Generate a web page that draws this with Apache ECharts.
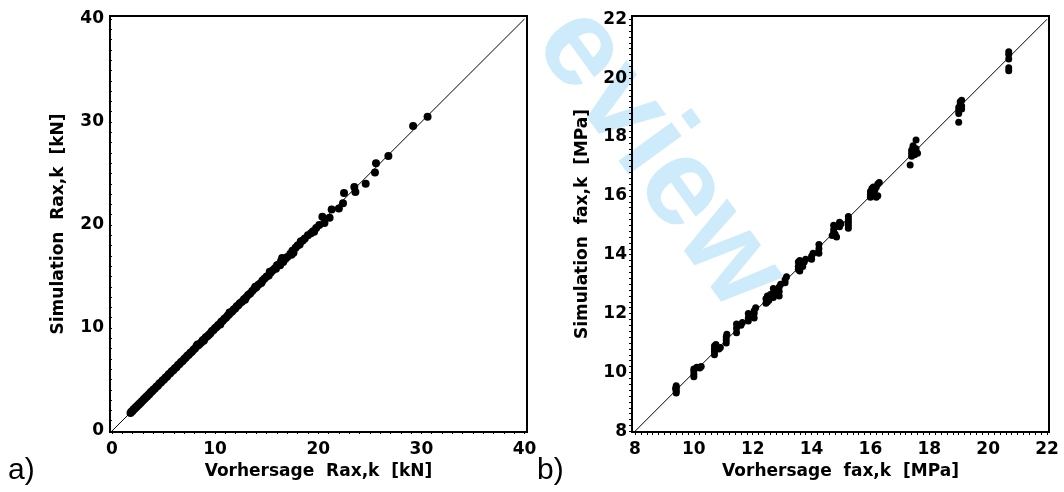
<!DOCTYPE html>
<html><head><meta charset="utf-8">
<script src="https://cdn.jsdelivr.net/npm/echarts@6/dist/echarts.min.js"></script>
<style>html,body{margin:0;padding:0;background:#fff}#c{width:1064px;height:492px}</style>
</head><body><div id="c"></div>
<script>
// a) Rax,k [kN]: [Vorhersage, Simulation]
const raxPoints = [
[1.8,1.75],[1.9,1.9],[2.0,1.95],[2.1,2.1],[2.2,2.15],[2.3,2.3],[2.4,2.35],[2.5,2.5],[2.6,2.55],[2.7,2.7],
[2.8,2.75],[2.9,2.9],[3.0,2.95],[3.1,3.1],[3.2,3.15],[3.3,3.3],[3.4,3.35],[3.5,3.5],[3.6,3.55],[3.7,3.7],
[3.8,3.8],[3.9,3.85],[4.0,4.0],[4.15,4.1],[4.3,4.3],[4.45,4.4],[4.6,4.6],[4.75,4.7],[4.9,4.9],[5.05,5.0],
[5.2,5.2],[5.35,5.3],[5.5,5.5],[5.65,5.6],[5.8,5.8],[5.95,5.9],[6.1,6.1],[6.25,6.2],[6.4,6.4],[6.55,6.5],
[6.7,6.7],[6.85,6.8],[7.0,7.0],[7.15,7.1],[7.3,7.3],[7.45,7.4],[7.6,7.6],[7.75,7.7],[7.9,7.9],[8.05,8.0],
[8.2,8.25],[8.35,8.3],[8.5,8.45],[8.65,8.6],[8.8,8.8],[8.95,8.9],[9.1,9.1],[9.25,9.2],[9.4,9.35],[9.55,9.5],
[9.7,9.7],[9.85,9.8],[10.0,10.0],[10.15,10.1],[10.3,10.3],[10.45,10.4],[10.6,10.6],[10.75,10.7],[10.9,10.9],[11.05,11.0],
[11.2,11.2],[11.35,11.3],[11.5,11.5],[11.65,11.6],[11.8,11.8],[11.95,11.9],[12.1,12.1],[12.25,12.2],[12.4,12.4],[12.6,12.55],
[12.8,12.8],[13.0,12.95],[13.2,13.2],[13.4,13.35],[13.6,13.6],[13.8,13.8],[14.0,13.95],[14.2,14.2],[14.4,14.35],[14.6,14.6],
[14.8,14.8],[15.0,15.0],[15.2,15.1],[15.4,15.4],[15.6,15.6],[15.8,15.8],[16.0,16.1],[16.2,16.2],[16.4,16.5],[16.5,16.8],
[16.6,16.4],[17.3,17.2],[17.5,17.5],[17.6,17.3],[17.8,17.8],[18.0,18.0],[18.2,18.1],[18.5,18.5],[18.7,18.7],[19.0,19.0],
[19.3,19.2],[19.5,19.4],[19.8,19.7],[20.1,20.0],[20.4,20.8],[20.6,20.2],[21.1,20.7],[21.3,21.5],[22.0,21.6],[22.4,22.1],
[22.5,23.1],[23.5,23.7],[23.6,23.2],[24.6,24.0],[25.5,25.1],[25.6,26.0],[26.8,26.7],[29.2,29.6],[30.6,30.5],
[8.3,8.4],[8.9,8.75],[10.5,10.35],[11.4,11.5],[12.9,12.75],[13.9,14.0],[14.5,14.4],[15.3,15.45],[15.9,15.75],[16.3,16.1],
[16.8,16.7],[17.0,16.9],[17.4,17.1],[18.3,18.4],[19.6,19.35]
];
// b) fax,k [MPa]: [Vorhersage, Simulation]
const faxPoints = [
[9.4,9.3],[9.4,9.35],[9.4,9.42],[9.4,9.5],[9.4,9.55],[9.38,9.45],
[10.0,9.85],[10.0,9.95],[10.0,10.05],[10.0,10.12],[10.2,10.15],[10.25,10.2],[10.1,10.18],
[10.7,10.6],[10.7,10.7],[10.7,10.8],[10.7,10.9],[10.85,10.8],[10.9,10.85],[10.75,10.95],
[11.1,11.0],[11.1,11.1],[11.1,11.2],[11.12,11.3],
[11.45,11.35],[11.45,11.5],[11.45,11.65],[11.6,11.6],[11.65,11.7],
[11.85,11.75],[11.85,11.85],[11.85,12.0],[12.05,11.85],[12.05,12.0],[12.05,12.1],[12.1,12.2],
[12.45,12.35],[12.45,12.5],[12.5,12.4],[12.5,12.6],[12.55,12.45],[12.6,12.65],[12.7,12.55],[12.7,12.7],[12.7,12.85],
[12.9,12.6],[12.9,12.75],[12.9,12.9],[12.95,13.0],
[13.1,13.05],[13.1,13.15],[13.15,13.25],
[13.55,13.5],[13.55,13.6],[13.6,13.45],[13.6,13.55],[13.6,13.7],[13.6,13.8],[13.65,13.65],[13.7,13.6],[13.75,13.75],[13.8,13.85],[13.55,13.75],
[14.0,13.85],[14.0,13.95],[14.05,14.05],[14.25,14.05],[14.25,14.2],[14.25,14.35],
[14.7,14.65],[14.75,14.75],[14.75,14.85],[14.8,14.95],[14.8,14.7],[14.85,14.6],[14.75,15.0],[14.95,14.95],[15.0,15.05],[14.95,15.1],
[15.25,14.9],[15.25,15.0],[15.25,15.1],[15.25,15.2],[15.25,15.3],
[16.0,15.95],[16.0,16.05],[16.0,16.15],[16.05,16.25],[16.1,16.0],[16.1,16.1],[16.15,16.2],[16.2,16.3],[16.25,16.0],[16.25,16.4],[16.3,16.45],[16.2,15.95],[16.1,16.3],
[17.35,17.05],[17.4,17.35],[17.4,17.45],[17.4,17.55],[17.45,17.65],[17.5,17.4],[17.55,17.5],[17.55,17.6],[17.6,17.45],[17.55,17.9],[17.45,17.7],
[19.0,18.5],[19.0,18.8],[19.0,18.9],[19.0,19.0],[19.05,19.1],[19.05,19.2],[19.1,19.25],[19.1,19.05],[19.1,18.95],
[20.7,20.25],[20.7,20.35],[20.7,20.65],[20.7,20.8],[20.7,20.9]
];
const raxTickLabels = [0, 10, 20, 30, 40];
const faxTickLabels = [8, 10, 12, 14, 16, 18, 20, 22];
const raxIdentity = [[0, 0], [40, 40]];
const faxIdentity = [[8, 8], [22, 22]];
const raxMinor = []; for (let v = 0; v <= 40; v += 1) raxMinor.push(v);
const faxMinor = []; for (let i = 0; i <= 70; i++) faxMinor.push(+(8 + i * 0.2).toFixed(1));

const FONT = 'DejaVu Sans';
const labelStyle = {color: '#000', fontFamily: FONT, fontWeight: 'bold', fontSize: 17};
const nameStyle = {color: '#000', fontFamily: FONT, fontWeight: 'bold', fontSize: 17};
function axis(idx, min, max, labels, minor, name, gap, margin) {
  return {
    type: 'value', gridIndex: idx, min: min, max: max,
    name: name, nameLocation: 'middle', nameGap: gap, nameTextStyle: nameStyle,
    axisLine: {show: false},
    splitLine: {show: false},
    axisTick: {show: true, inside: false, length: 3, customValues: minor, lineStyle: {color: '#000', width: 1}},
    axisLabel: {show: true, customValues: labels, margin: margin, ...labelStyle}
  };
}
const chart = echarts.init(document.getElementById('c'), null, {renderer: 'canvas'});
chart.setOption({
  backgroundColor: '#fff',
  animation: false,
  grid: [
    {left: 110, top: 16, width: 417, height: 416, show: true, borderColor: '#000', borderWidth: 2, backgroundColor: 'transparent'},
    {left: 632, top: 16, width: 417, height: 416, show: true, borderColor: '#000', borderWidth: 2, backgroundColor: 'transparent'}
  ],
  xAxis: [
    axis(0, -0.19, 40.24, raxTickLabels, raxMinor, 'Vorhersage  Rax,k  [kN]', 26, 9),
    axis(1, 7.898, 22.068, faxTickLabels, faxMinor, 'Vorhersage  fax,k  [MPa]', 26, 9)
  ],
  yAxis: [
    axis(0, -0.097, 40.29, raxTickLabels, raxMinor, 'Simulation  Rax,k  [kN]', 43, 6),
    axis(1, 7.976, 22.112, faxTickLabels, faxMinor, 'Simulation  fax,k  [MPa]', 41, 5)
  ],
  graphic: [
    {type: 'text', x: 560, y: 22, rotation: -54 * Math.PI / 180, z: -10,
     style: {text: 'eview', font: 'bold 124px "Liberation Sans"', fill: '#cdebfa', align: 'left', verticalAlign: 'middle'}},
    {type: 'text', left: 8, top: 456, style: {text: 'a)', font: '30px "Liberation Sans"', fill: '#000'}},
    {type: 'text', left: 537, top: 456, style: {text: 'b)', font: '30px "Liberation Sans"', fill: '#000'}}
  ],
  series: [
    {type: 'line', xAxisIndex: 0, yAxisIndex: 0, data: raxIdentity, showSymbol: false, symbol: 'none', lineStyle: {color: '#000', width: 1}, z: 1, silent: true},
    {type: 'line', xAxisIndex: 1, yAxisIndex: 1, data: faxIdentity, showSymbol: false, symbol: 'none', lineStyle: {color: '#000', width: 1}, z: 1, silent: true},
    {type: 'scatter', xAxisIndex: 0, yAxisIndex: 0, data: raxPoints, symbol: 'circle', symbolSize: 8, itemStyle: {color: '#000', opacity: 1}, z: 3},
    {type: 'scatter', xAxisIndex: 1, yAxisIndex: 1, data: faxPoints, symbol: 'circle', symbolSize: 7, itemStyle: {color: '#000', opacity: 1}, z: 3}
  ]
});
</script></body></html>
